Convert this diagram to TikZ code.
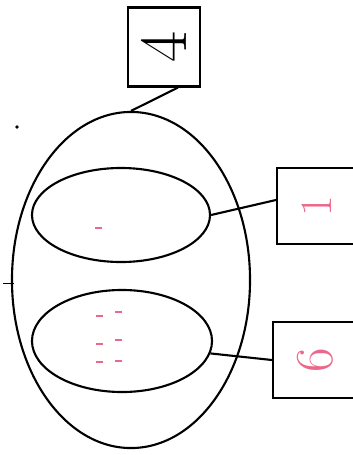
\documentclass[tikz,border=0pt]{standalone}
\usepackage{tikz}
\usetikzlibrary{shapes.geometric}
\definecolor{inkpink}{RGB}{236,104,138}

\begin{document}
\begin{tikzpicture}[
		x=0.025cm, y=-0.025cm,
		line width=1.5pt,
		blob/.style={
			draw,
			ellipse,
			inner sep=0pt
		},
		tagbox/.style={
			draw,
			inner sep=0pt,
			minimum width=2cm,
			minimum height=1.9cm,
			font=\fontsize{32}{34}\selectfont
		},
		tally/.style={inkpink, line width=1.2pt},
		link/.style={draw}
		]
		\useasboundingbox (0,0) rectangle (353,455);
		
		% Outer set
		\node[blob, minimum width=5.95cm, minimum height=8.4cm] (outer) at (131,280) {};
		
		% Inner sets
		\node[blob, minimum width=4.45cm, minimum height=2.35cm] (upper) at (121,215) {};
		\node[blob, minimum width=4.5cm, minimum height=2.55cm] (lower) at (122,341) {};
		
		% Count boxes
		\node[tagbox, minimum width=1.8cm, minimum height=1.975cm,
			font=\fontsize{48}{50}\selectfont] (four) at (164,47) {\rotatebox{90}{4}};
		\node[tagbox, text=inkpink] (one) at (317,206) {\rotatebox{90}{1}};
		\node[tagbox, minimum width=2.1cm, text=inkpink,
			font=\fontsize{38}{40}\selectfont] (six) at (315,360) {\rotatebox{90}{6}};
		
		% Links
		\draw[link] (outer.north) -- ([xshift=3.5mm]four.south);
		\draw[link] (upper.east) -- ([yshift=1.5mm]one.west);
		\draw[link] (lower.-8) -- (six.west);
		
		% Marks inside the sets
		\draw[tally] (95,228) -- (102,228);
		\foreach \row/\ya/\yb in {1/316/312, 2/344/340, 3/362/361} {
			\draw[tally] (96,\ya) -- (103,\ya);
			\draw[tally] (115,\yb) -- (122,\yb);
		}
		
		% Stray marks
		\fill (17,127) circle (1.3pt);
		\draw[line width=0.6pt] (3,283) -- (14,283);
		
	\end{tikzpicture}
\end{document}
